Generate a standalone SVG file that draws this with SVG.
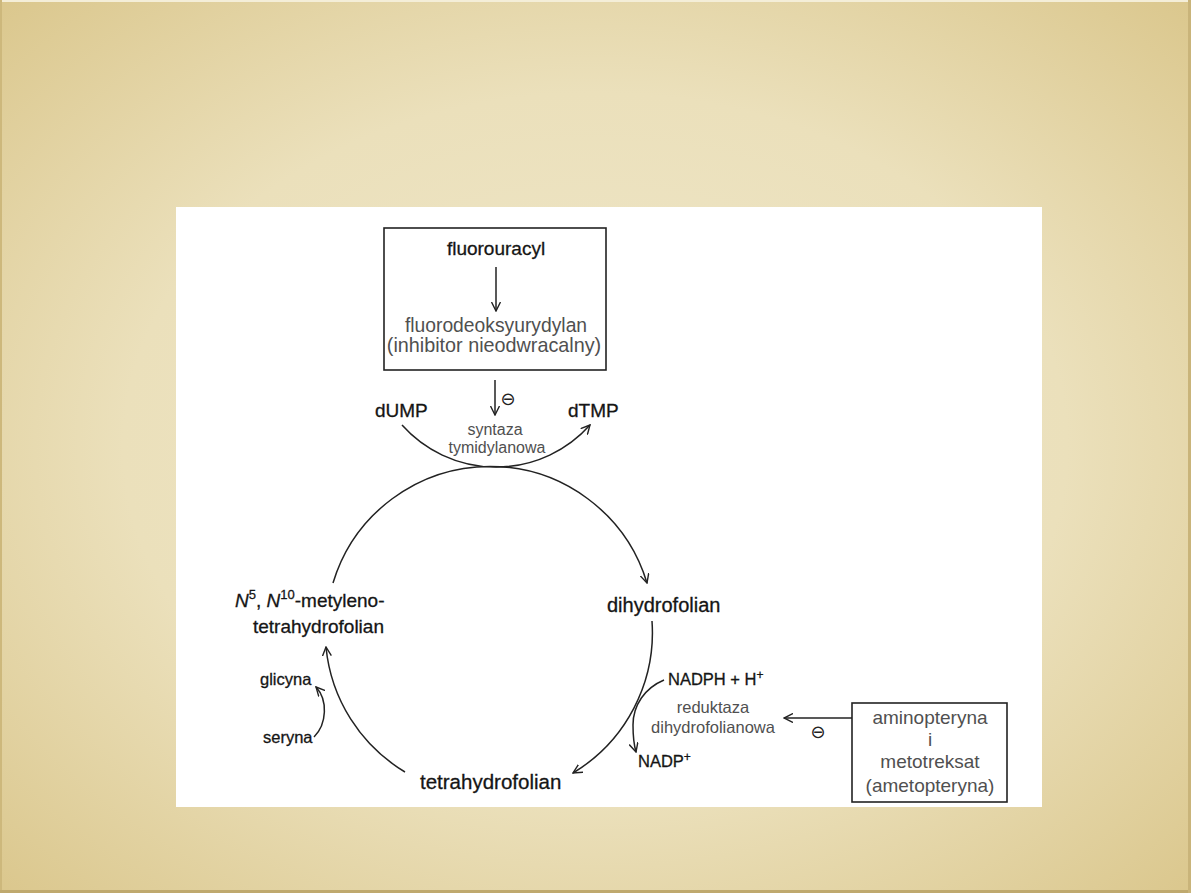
<svg xmlns="http://www.w3.org/2000/svg" width="1191" height="893" viewBox="0 0 1191 893">
<defs>
<radialGradient id="bg" cx="0.5" cy="0.5" r="0.72">
<stop offset="0" stop-color="#efe7ca"/>
<stop offset="0.55" stop-color="#ebe0bb"/>
<stop offset="1" stop-color="#dac68b"/>
</radialGradient>
<marker id="ah" viewBox="0 0 10 10" refX="9" refY="5" markerWidth="10" markerHeight="10" markerUnits="userSpaceOnUse" orient="auto">
<path d="M0,0.5 L9,5 L0,9.5" fill="none" stroke="#222" stroke-width="1.4"/>
</marker>
<style>
.t{font-family:"Liberation Sans",Arial,sans-serif;fill:#151515;stroke:#151515;stroke-width:0.3}
.g{font-family:"Liberation Sans",Arial,sans-serif;fill:#505050}
.c{text-anchor:middle}
.ln{fill:none;stroke:#222;stroke-width:1.5}
.box{fill:#fff;stroke:#222;stroke-width:1.6}
.sym{font-family:"DejaVu Sans",sans-serif;fill:#222;font-size:18px;text-anchor:middle}
</style>
</defs>
<rect x="0" y="0" width="1191" height="893" fill="url(#bg)"/>
<line x1="0" y1="1" x2="1191" y2="1" stroke="#f4eed8" stroke-width="2"/>
<line x1="1" y1="0" x2="1" y2="893" stroke="#cdb87c" stroke-width="2"/>
<line x1="0" y1="891.5" x2="1191" y2="891.5" stroke="#bfa96e" stroke-width="3"/>
<line x1="1189.5" y1="0" x2="1189.5" y2="893" stroke="#c9b47a" stroke-width="3"/>
<rect x="176" y="207" width="866" height="600" fill="#fff"/>

<g id="fluorouracyl-box">
<rect class="box" x="384" y="228" width="222" height="142"/>
<text class="t c" x="496" y="255" font-size="19">fluorouracyl</text>
<text class="g c" x="496" y="332" font-size="19.3">fluorodeoksyurydylan</text>
<text class="g c" x="494" y="352" font-size="19.8">(inhibitor nieodwracalny)</text>
</g>

<g id="dUMP"><text class="t" x="375" y="417" font-size="19">dUMP</text></g>
<g id="dTMP"><text class="t" x="568" y="417" font-size="19">dTMP</text></g>
<g id="syntaza">
<text class="g c" x="495" y="435" font-size="16">syntaza</text>
<text class="g c" x="497" y="453" font-size="16">tymidylanowa</text>
</g>

<g id="metylenotetrahydrofolian">
<text class="t" x="235" y="607" font-size="19"><tspan font-style="italic">N</tspan><tspan dy="-8" font-size="13">5</tspan><tspan dy="8">, </tspan><tspan font-style="italic">N</tspan><tspan dy="-8" font-size="13">10</tspan><tspan dy="8">-metyleno-</tspan></text>
<text class="t" x="253" y="633" font-size="19">tetrahydrofolian</text>
</g>

<g id="dihydrofolian"><text class="t" x="607" y="612" font-size="20">dihydrofolian</text></g>

<g id="tetrahydrofolian"><text class="t" x="420" y="789" font-size="20.5">tetrahydrofolian</text></g>

<g id="glicyna"><text class="t" x="260" y="685" font-size="16.5">glicyna</text></g>
<g id="seryna"><text class="t" x="263" y="743" font-size="16.5">seryna</text></g>

<g id="NADPH"><text class="t" x="668" y="685" font-size="16.5">NADPH + H<tspan dy="-6" font-size="12">+</tspan></text></g>
<g id="NADP"><text class="t" x="638" y="767" font-size="16.5">NADP<tspan dy="-6" font-size="12">+</tspan></text></g>

<g id="reduktaza">
<text class="g c" x="713" y="713" font-size="16.5">reduktaza</text>
<text class="g c" x="713" y="733" font-size="16.5">dihydrofolianowa</text>
</g>

<g id="aminopteryna-box">
<rect class="box" x="852" y="703" width="155" height="99"/>
<text class="g c" x="930" y="724" font-size="19">aminopteryna</text>
<text class="g c" x="930" y="746" font-size="19">i</text>
<text class="g c" x="930" y="768" font-size="19">metotreksat</text>
<text class="g c" x="930" y="792" font-size="19">(ametopteryna)</text>
</g>

<g id="connectors">
<path class="ln" d="M496,267 L496,311" marker-end="url(#ah)"/>
<path class="ln" d="M495,380 L495,415" marker-end="url(#ah)"/>
<path class="ln" d="M402,425 A126,126 0 0 0 590,425" marker-end="url(#ah)"/>
<path class="ln" d="M333,583 A164,164 0 0 1 647,583" marker-end="url(#ah)"/>
<path class="ln" d="M652,621 A164,164 0 0 1 573,773" marker-end="url(#ah)"/>
<path class="ln" d="M405,772 A164,164 0 0 1 326,647" marker-end="url(#ah)"/>
<path class="ln" d="M314,737 C327,724 328,700 316,687" marker-end="url(#ah)"/>
<path class="ln" d="M664,680 C645,688 633,705 633,725 C633,738 634,745 636,752" marker-end="url(#ah)"/>
<path class="ln" d="M852,718 L784,718" marker-end="url(#ah)"/>
<text class="sym" x="508" y="405">⊖</text>
<text class="sym" x="818" y="738">⊖</text>
</g>
</svg>
